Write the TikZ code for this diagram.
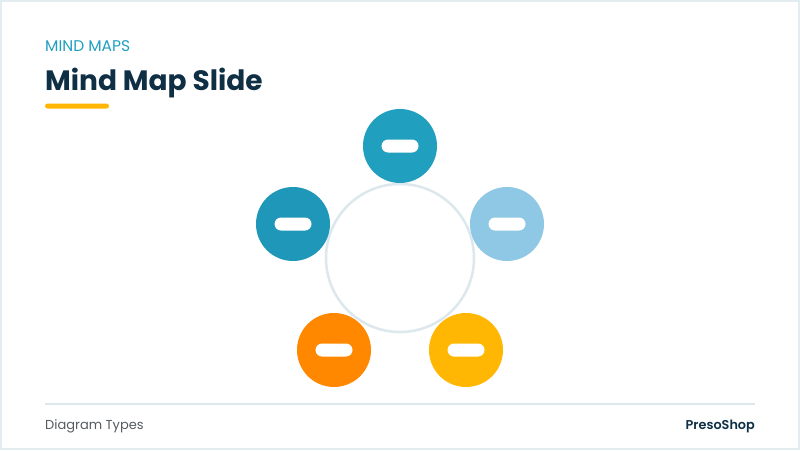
\documentclass[tikz,border=0pt]{standalone}
\usepackage{fontspec}
\setmainfont{Poppins}
\newfontfamily\popsemi{Poppins SemiBold}
\definecolor{teal1}{HTML}{219FBF}
\definecolor{teal2}{HTML}{1E97B8}
\definecolor{lblue}{HTML}{8FC8E5}
\definecolor{orng}{HTML}{FF8800}
\definecolor{ambr}{HTML}{FFB703}
\definecolor{navy}{HTML}{0E2F44}
\definecolor{ringc}{HTML}{DCE8EE}
\definecolor{framec}{HTML}{E3ECF0}
\definecolor{footg}{HTML}{555B60}
\begin{document}
\begin{tikzpicture}[x=1pt,y=-1pt,
  bubble/.style={circle,minimum size=74pt,inner sep=0pt},
  pill/.style={fill=white,rounded corners=6.5pt,minimum width=37pt,minimum height=13pt,inner sep=0pt}]
\useasboundingbox (0,0) rectangle (800,450);
\fill[white] (0,0) rectangle (800,450);
\draw[framec,line width=2pt] (1,1) rectangle (799,449);
% header
\node[anchor=base west,inner sep=0pt,text=teal1,font=\fontsize{15.5}{18}\selectfont] (kick) at (45,51) {MIND MAPS};
\node[anchor=base west,inner sep=0pt,text=navy,font=\fontsize{28}{33}\selectfont\bfseries] (title) at (45,90) {Mind Map Slide};
\fill[ambr,rounded corners=2.5pt] (45,103.5) rectangle (109,108.5);
% center ring
\node[circle,draw=ringc,line width=2.5pt,minimum size=148pt,inner sep=0pt] (hub) at (400,258) {};
% bubbles
\node[bubble,fill=teal1] (b1) at (400,146) {};
\node[bubble,fill=lblue] (b2) at (507,224) {};
\node[bubble,fill=ambr] (b3) at (466,350) {};
\node[bubble,fill=orng] (b4) at (334,350) {};
\node[bubble,fill=teal2] (b5) at (293,224) {};
\foreach \b in {b1,b2,b3,b4,b5} {\node[pill] at (\b) {};}
% footer
\draw[ringc,line width=1.2pt] (45,404) -- (755,404);
\node[anchor=base west,inner sep=0pt,text=footg,font=\fontsize{13}{16}\selectfont] (ft1) at (45,429) {Diagram Types};
\node[anchor=base east,inner sep=0pt,text=navy,font=\fontsize{12.8}{16}\selectfont\popsemi] (ft2) at (755,429) {PresoShop};
\end{tikzpicture}
\end{document}
